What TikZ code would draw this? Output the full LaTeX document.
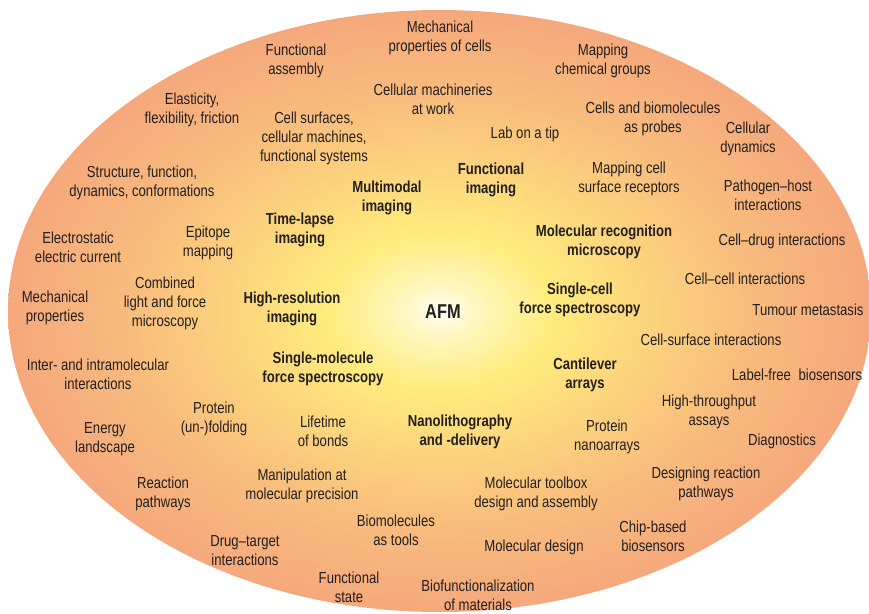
\documentclass[tikz,border=0pt]{standalone}
\usepackage{fontspec}
\setmainfont{Liberation Sans}[FakeStretch=0.82]
\definecolor{cA}{RGB}{255,253,242}
\definecolor{cB}{RGB}{255,246,185}
\definecolor{cC}{RGB}{255,236,125}
\definecolor{cD}{RGB}{252,212,125}
\definecolor{cE}{RGB}{248,188,125}
\definecolor{cF}{RGB}{245,168,124}
\definecolor{txtc}{RGB}{35,31,32}
\pgfdeclareradialshading{afmshade}{\pgfpoint{0bp}{0bp}}{%
  color(0bp)=(cA); color(2.5bp)=(cB); color(6.5bp)=(cC); color(12bp)=(cD);
  color(18bp)=(cE); color(25bp)=(cF); color(50bp)=(cF)}
\tikzset{
  lbl/.style={align=center, inner sep=0pt, text=txtc, font=\fontsize{16}{19}\selectfont},
  blbl/.style={lbl, font=\fontsize{16}{19}\selectfont\bfseries},
}
\begin{document}
\begin{tikzpicture}[x=1pt,y=-1pt]
\useasboundingbox (0,0) rectangle (869,613);
\path[shading=afmshade] (439.5,311) ellipse [x radius=431.5pt, y radius=301pt];
\begin{scope}[shift={(0,1.5)}]
\node[lbl] (n1) at (440,36) {Mechanical\\properties of cells};
\node[lbl] (n2) at (296,59) {Functional\\assembly};
\node[lbl] (n3) at (603,59) {Mapping\\chemical groups};
\node[lbl] (n4) at (433,98) {Cellular machineries\\at work};
\node[lbl] (n5) at (192,108) {Elasticity,\\flexibility, friction};
\node[lbl] (n6) at (314,137) {Cell surfaces,\\cellular machines,\\functional systems};
\node[lbl] (n7) at (525,133) {Lab on a tip};
\node[lbl] (n8) at (653,117) {Cells and biomolecules\\as probes};
\node[lbl] (n9) at (748,137) {Cellular\\dynamics};
\node[lbl] (n10) at (142,181) {Structure, function,\\dynamics, conformations};
\node[blbl] (n11) at (491,178) {Functional\\imaging};
\node[lbl] (n12) at (629,177) {Mapping cell\\surface receptors};
\node[blbl] (n13) at (387,196) {Multimodal\\imaging};
\node[lbl] (n14) at (768,194) {Pathogen–host\\interactions};
\node[blbl] (n15) at (300,228) {Time-lapse\\imaging};
\node[lbl] (n16) at (78,246) {Electrostatic\\electric current};
\node[lbl] (n17) at (208,241) {Epitope\\mapping};
\node[blbl] (n18) at (604,240) {Molecular recognition\\microscopy};
\node[lbl] (n19) at (782,240) {Cell–drug interactions};
\node[lbl] (n20) at (745,277) {Cell–cell interactions};
\node[lbl] (n21) at (55,306) {Mechanical\\properties};
\node[lbl] (n22) at (165,302) {Combined\\light and force\\microscopy};
\node[blbl] (n23) at (292,307) {High-resolution\\imaging};
\node[blbl, font=\fontsize{20}{24}\selectfont\bfseries] (afm) at (443,310) {AFM};
\node[blbl] (n25) at (580,298) {Single-cell\\force spectroscopy};
\node[lbl] (n26) at (808,308) {Tumour metastasis};
\node[lbl] (n27) at (711,338) {Cell-surface interactions};
\node[blbl] (n28) at (323,367) {Single-molecule\\force spectroscopy};
\node[blbl] (n29) at (585,373) {Cantilever\\arrays};
\node[lbl] (n30) at (797,373) {Label-free\hspace{4pt} biosensors};
\node[lbl] (n31) at (98,373) {Inter- and intramolecular\\interactions};
\node[lbl] (n32) at (709,410) {High-throughput\\assays};
\node[lbl] (n33) at (214,417) {Protein\\(un-)folding};
\node[lbl] (n34) at (323,430) {Lifetime\\of bonds};
\node[blbl] (n35) at (460,430) {Nanolithography\\and -delivery};
\node[lbl] (n36) at (607,435) {Protein\\nanoarrays};
\node[lbl] (n37) at (782,440) {Diagnostics};
\node[lbl] (n38) at (105,438) {Energy\\landscape};
\node[lbl] (n39) at (302,484) {Manipulation at\\molecular precision};
\node[lbl] (n40) at (163,492) {Reaction\\pathways};
\node[lbl] (n41) at (706,482) {Designing reaction\\pathways};
\node[lbl] (n42) at (536,492) {Molecular toolbox\\design and assembly};
\node[lbl] (n43) at (396,529) {Biomolecules\\as tools};
\node[lbl] (n44) at (653,535) {Chip-based\\biosensors};
\node[lbl] (n45) at (245,549) {Drug–target\\interactions};
\node[lbl] (n46) at (534,546) {Molecular design};
\node[lbl] (n47) at (349,586) {Functional\\state};
\node[lbl] (n48) at (478,594) {Biofunctionalization\\of materials};
\end{scope}
\end{tikzpicture}
\end{document}
